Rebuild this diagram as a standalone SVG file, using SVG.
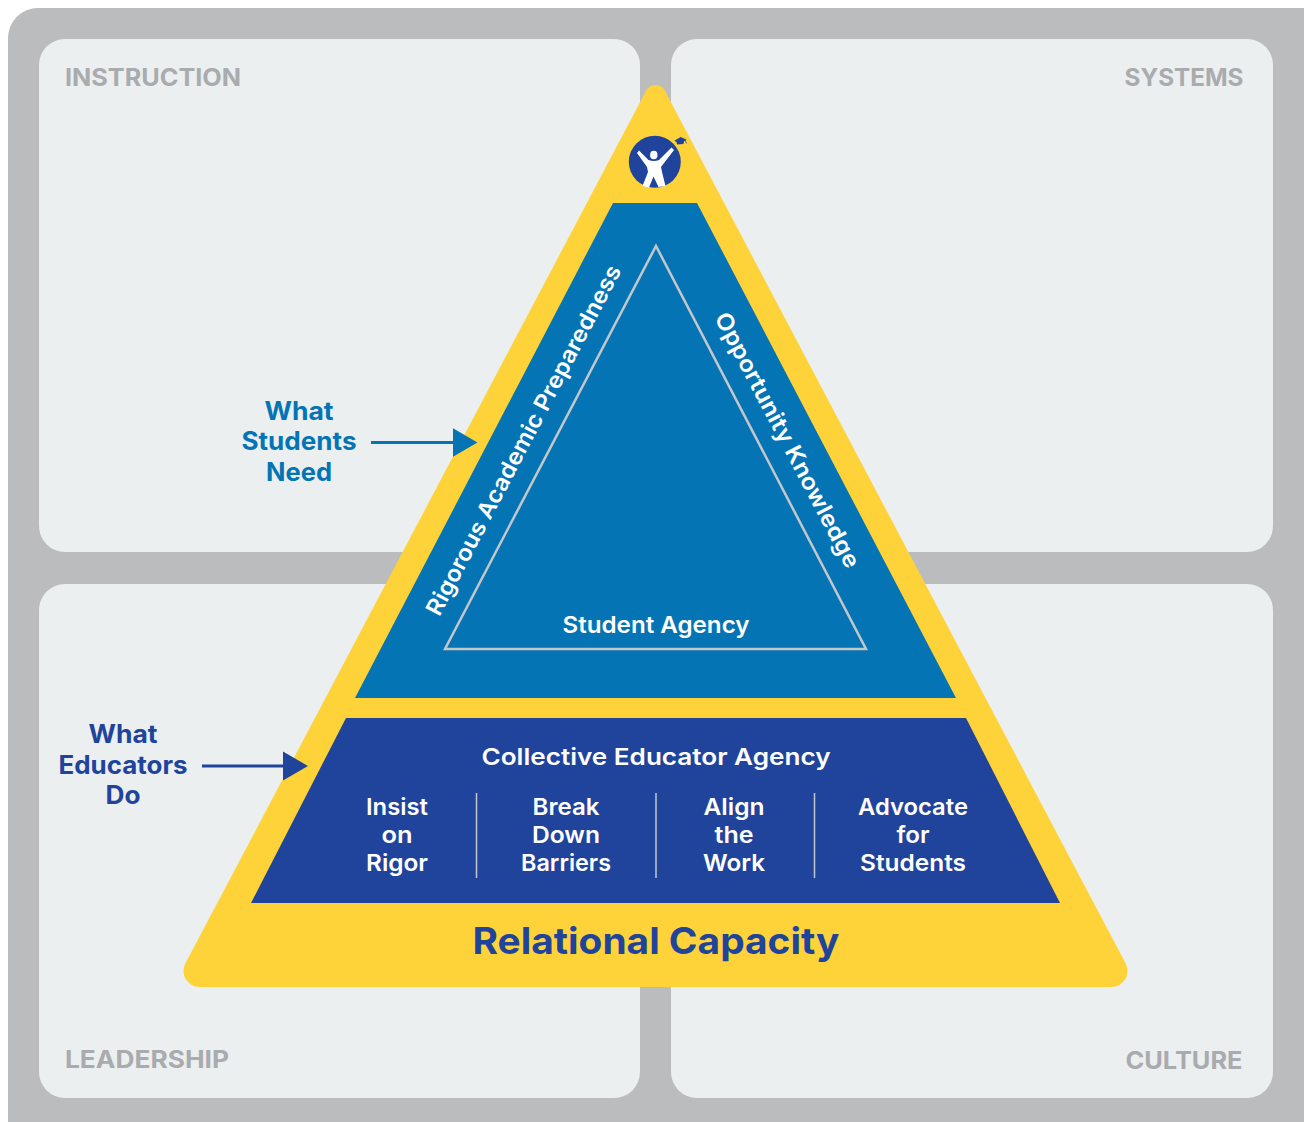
<svg xmlns="http://www.w3.org/2000/svg" width="1304" height="1122" viewBox="0 0 1304 1122">
<style>
text{font-family:"Inter","Noto Sans","Liberation Sans",sans-serif;font-weight:600;text-anchor:middle;}
.panel{fill:#ebeff0;}
.q{font-size:24px;fill:#a9abae;font-weight:700;}
.w{fill:#fff;font-size:23px;}
.sb{fill:#0474b5;font-size:25px;font-weight:700;}
.nb{fill:#20449c;font-size:25px;font-weight:700;}
</style>
<defs>
<marker id="hb" markerUnits="userSpaceOnUse" markerWidth="26" markerHeight="30" refX="2" refY="15" orient="auto"><path d="M0 .5 L25 15 L0 29.500Z" fill="#0474b5"/></marker>
<marker id="hn" markerUnits="userSpaceOnUse" markerWidth="26" markerHeight="30" refX="2" refY="15" orient="auto"><path d="M0 .5 L25 15 L0 29.500Z" fill="#20449c"/></marker>
</defs>
<rect id="frame" x="8" y="8" width="1330" height="1150" rx="30" fill="#bbbcbe"/>
<g id="instruction"><rect class="panel" x="39" y="39" width="601" height="513" rx="26"/><text class="q" x="153" y="86" textLength="176" lengthAdjust="spacingAndGlyphs">INSTRUCTION</text></g>
<g id="systems"><rect class="panel" x="671" y="39" width="602" height="513" rx="26"/><text class="q" x="1184" y="86" textLength="119" lengthAdjust="spacingAndGlyphs">SYSTEMS</text></g>
<g id="leadership"><rect class="panel" x="39" y="584" width="601" height="514" rx="26"/><text class="q" x="147" y="1068" textLength="164" lengthAdjust="spacingAndGlyphs">LEADERSHIP</text></g>
<g id="culture"><rect class="panel" x="671" y="584" width="602" height="514" rx="26"/><text class="q" x="1184" y="1069" textLength="117" lengthAdjust="spacingAndGlyphs">CULTURE</text></g>
<g id="relational-capacity">
<path d="M646.200 90.600 A10.500 10.500 0 0 1 664.800 90.600 L1125.700 963.600 A16 16 0 0 1 1111.600 987 L199.400 987 A16 16 0 0 1 185.300 963.600 Z" fill="#fed339"/>
<text x="656" y="954" font-size="37" fill="#20449c" style="font-weight:700" textLength="367" lengthAdjust="spacingAndGlyphs">Relational Capacity</text>
</g>
<g id="logo">
<circle cx="654.800" cy="161.800" r="26" fill="#20449c"/>
<path d="M637 153 L639 150.500 L648.500 160 Q654 162 659 160 L671.500 147.500 L674 150 L661 167 L662 172 L665.500 186 L658.500 187 L653.500 176.500 L649 187.500 L642.500 186 L648 172 L647 167Z" fill="#fff"/>
<ellipse cx="653.800" cy="155" rx="3.700" ry="4.300" fill="#fff"/>
<path d="M674.300 140.700 L680.700 137 L686.700 139.700 L684 141.300 L683.500 144 L677 144.500 L676.500 142Z" fill="#20449c"/>
<path d="M685 140 L686.500 143.500" stroke="#20449c" stroke-width=".8" fill="none"/>
</g>
<g id="what-students-need">
<path d="M613 203 L697 203 L956 698 L355 698Z" fill="#0474b5"/>
<path d="M656 246 L866 649 L445 649Z" fill="none" stroke="#c3c7ca" stroke-width="2.500"/>
<text class="w" transform="translate(523.500 440) rotate(-62.250)" y="8" textLength="392" lengthAdjust="spacingAndGlyphs">Rigorous Academic Preparedness</text>
<text class="w" transform="translate(787.500 440) rotate(62.250)" y="8" textLength="285" lengthAdjust="spacingAndGlyphs">Opportunity Knowledge</text>
<text class="w" x="656" y="633" textLength="187" lengthAdjust="spacingAndGlyphs">Student Agency</text>
</g>
<g id="what-educators-do">
<path d="M346 718 L966 718 L1060 903 L251 903Z" fill="#20449c"/>
<text class="w" x="656" y="764.500" font-size="25" textLength="349" lengthAdjust="spacingAndGlyphs">Collective Educator Agency</text>
<g stroke="#c3c7ca" stroke-width="1.500"><path d="M476.500 793V878M656 793V878M814.500 793V878"/></g>
<text class="w" x="397" y="814.500" textLength="62" lengthAdjust="spacingAndGlyphs">Insist</text>
<text class="w" x="397" y="842.500" textLength="31" lengthAdjust="spacingAndGlyphs">on</text>
<text class="w" x="397" y="870.500" textLength="62" lengthAdjust="spacingAndGlyphs">Rigor</text>
<text class="w" x="566" y="814.500" textLength="67" lengthAdjust="spacingAndGlyphs">Break</text>
<text class="w" x="566" y="842.500" textLength="68" lengthAdjust="spacingAndGlyphs">Down</text>
<text class="w" x="566" y="870.500" textLength="90" lengthAdjust="spacingAndGlyphs">Barriers</text>
<text class="w" x="734" y="814.500" textLength="61" lengthAdjust="spacingAndGlyphs">Align</text>
<text class="w" x="734" y="842.500" textLength="39" lengthAdjust="spacingAndGlyphs">the</text>
<text class="w" x="734" y="870.500" textLength="62" lengthAdjust="spacingAndGlyphs">Work</text>
<text class="w" x="913" y="814.500" textLength="110" lengthAdjust="spacingAndGlyphs">Advocate</text>
<text class="w" x="913" y="842.500" textLength="33" lengthAdjust="spacingAndGlyphs">for</text>
<text class="w" x="913" y="870.500" textLength="106" lengthAdjust="spacingAndGlyphs">Students</text>
</g>
<g id="label-students">
<text class="sb" x="299" y="420" textLength="69" lengthAdjust="spacingAndGlyphs">What</text>
<text class="sb" x="299" y="450" textLength="115" lengthAdjust="spacingAndGlyphs">Students</text>
<text class="sb" x="299" y="481" textLength="66" lengthAdjust="spacingAndGlyphs">Need</text>
</g>
<g id="label-educators">
<text class="nb" x="123" y="743" textLength="69" lengthAdjust="spacingAndGlyphs">What</text>
<text class="nb" x="123" y="774" textLength="129" lengthAdjust="spacingAndGlyphs">Educators</text>
<text class="nb" x="123" y="804" textLength="35" lengthAdjust="spacingAndGlyphs">Do</text>
</g>
<g id="connectors" fill="none" stroke-width="3">
<path d="M371 442.500 H454.500" stroke="#0474b5" marker-end="url(#hb)"/>
<path d="M202 766 H285" stroke="#20449c" marker-end="url(#hn)"/>
</g>
</svg>
